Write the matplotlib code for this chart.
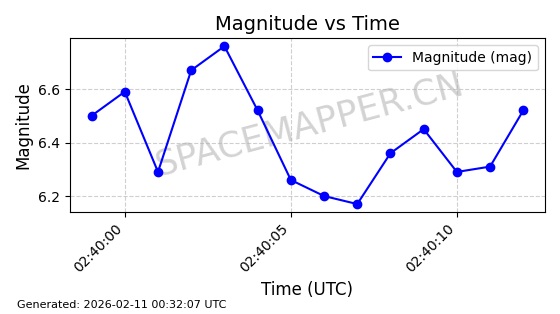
import matplotlib
matplotlib.use("Agg")
import matplotlib.pyplot as plt
import matplotlib.dates as mdates
import pandas as pd

times = ["02:39:59", "02:40:00", "02:40:01", "02:40:02", "02:40:03", "02:40:04", "02:40:05",
         "02:40:06", "02:40:07", "02:40:08", "02:40:09", "02:40:10", "02:40:11", "02:40:12"]
magnitude = [6.50, 6.59, 6.29, 6.67, 6.76, 6.52, 6.26, 6.20, 6.17, 6.36, 6.45, 6.29, 6.31, 6.52]

t = pd.to_datetime(["2026-02-11 " + s for s in times])

fig, ax = plt.subplots(figsize=(5.6, 3.14), dpi=100)
ax.plot(t, magnitude, marker="o", color="blue", label="Magnitude (mag)", zorder=3)
ax.set_title("Magnitude vs Time", fontsize=14)
ax.set_xlabel("Time (UTC)", fontsize=12)
ax.set_ylabel("Magnitude", fontsize=12)
ax.grid(True, linestyle="--", alpha=0.6)
ax.legend(loc="upper right")
ax.xaxis.set_major_locator(mdates.SecondLocator(bysecond=range(0, 60, 5)))
ax.xaxis.set_major_formatter(mdates.DateFormatter("%H:%M:%S"))
plt.setp(ax.get_xticklabels(), rotation=45, ha="right")
ax.text(0.505, 0.5, "SPACEMAPPER.CN", transform=ax.transAxes, fontsize=25.5,
        color="gray", alpha=0.35, rotation=15, ha="center", va="center", zorder=1)
fig.subplots_adjust(left=0.125, right=0.973, top=0.878, bottom=0.325)
fig.text(0.03, 0.02, "Generated: 2026-02-11 00:32:07 UTC", fontsize=8)
fig.savefig("out.png", dpi=100)
